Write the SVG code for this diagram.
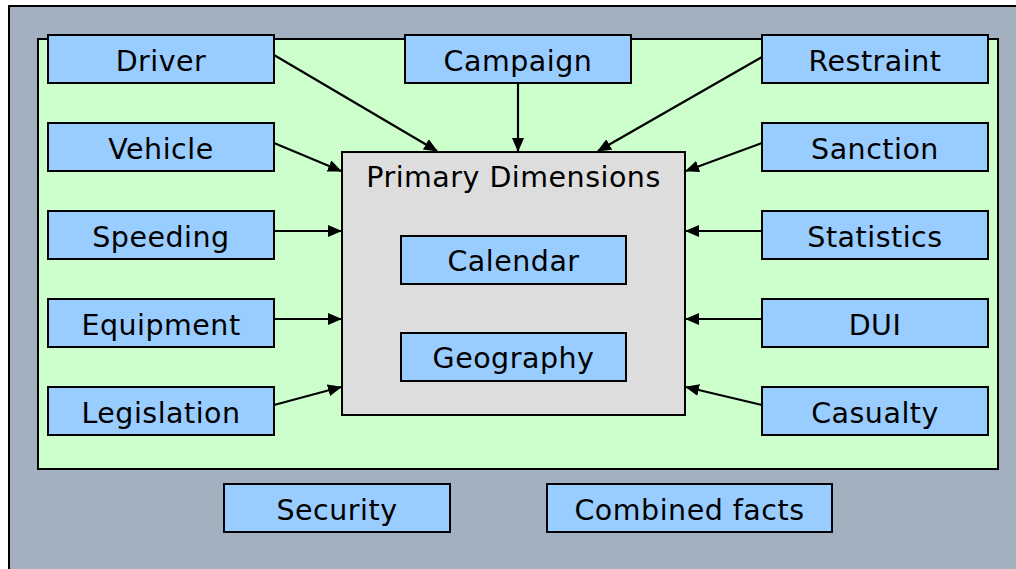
<svg xmlns="http://www.w3.org/2000/svg" width="1016" height="569" viewBox="0 0 1016 569">
<defs>
<marker id="ah" markerWidth="14" markerHeight="12" refX="13" refY="6" orient="auto" markerUnits="userSpaceOnUse">
<path d="M0,0 L14,6 L0,12 z" fill="#000"/>
</marker>
<style>
.bx{fill:#99CCFF;stroke:#000;stroke-width:2}
.t{font-family:"DejaVu Sans",Verdana,sans-serif;font-size:28.5px;letter-spacing:0.5px;fill:#000;text-anchor:middle}
.c{stroke:#000;stroke-width:2.2;fill:none;marker-end:url(#ah)}
</style>
</defs>
<rect x="0" y="0" width="1016" height="569" fill="#fff"/>
<rect id="frame" x="9" y="6" width="1020" height="580" fill="#A2B0BF" stroke="#000" stroke-width="2"/>
<rect id="area" x="38" y="39" width="960" height="430" fill="#CCFFCC" stroke="#000" stroke-width="2"/>
<g id="primary">
<rect x="342" y="152" width="343" height="263" fill="#DDDDDD" stroke="#000" stroke-width="2"/>
<text class="t" x="513.5" y="187">Primary Dimensions</text>
</g>
<g id="calendar"><rect class="bx" x="401" y="236" width="225" height="48"/><text class="t" x="513.5" y="271">Calendar</text></g>
<g id="geography"><rect class="bx" x="401" y="333" width="225" height="48"/><text class="t" x="513.5" y="368">Geography</text></g>
<g id="connectors">
<line class="c" x1="274" y1="55" x2="437" y2="151"/>
<line class="c" x1="518" y1="83" x2="518" y2="151"/>
<line class="c" x1="762" y1="57" x2="598" y2="151"/>
<line class="c" x1="274" y1="143" x2="341" y2="171"/>
<line class="c" x1="762" y1="143" x2="686" y2="171"/>
<line class="c" x1="274" y1="231" x2="341" y2="231"/>
<line class="c" x1="762" y1="231" x2="686" y2="231"/>
<line class="c" x1="274" y1="319" x2="341" y2="319"/>
<line class="c" x1="762" y1="319" x2="686" y2="319"/>
<line class="c" x1="274" y1="405" x2="341" y2="387"/>
<line class="c" x1="762" y1="405" x2="686" y2="387"/>
</g>
<g id="driver"><rect class="bx" x="48" y="35" width="226" height="48"/><text class="t" x="161" y="71">Driver</text></g>
<g id="campaign"><rect class="bx" x="405" y="35" width="226" height="48"/><text class="t" x="518" y="71">Campaign</text></g>
<g id="restraint"><rect class="bx" x="762" y="35" width="226" height="48"/><text class="t" x="875" y="71">Restraint</text></g>
<g id="vehicle"><rect class="bx" x="48" y="123" width="226" height="48"/><text class="t" x="161" y="159">Vehicle</text></g>
<g id="sanction"><rect class="bx" x="762" y="123" width="226" height="48"/><text class="t" x="875" y="159">Sanction</text></g>
<g id="speeding"><rect class="bx" x="48" y="211" width="226" height="48"/><text class="t" x="161" y="247">Speeding</text></g>
<g id="statistics"><rect class="bx" x="762" y="211" width="226" height="48"/><text class="t" x="875" y="247">Statistics</text></g>
<g id="equipment"><rect class="bx" x="48" y="299" width="226" height="48"/><text class="t" x="161" y="335">Equipment</text></g>
<g id="dui"><rect class="bx" x="762" y="299" width="226" height="48"/><text class="t" x="875" y="335">DUI</text></g>
<g id="legislation"><rect class="bx" x="48" y="387" width="226" height="48"/><text class="t" x="161" y="423">Legislation</text></g>
<g id="casualty"><rect class="bx" x="762" y="387" width="226" height="48"/><text class="t" x="875" y="423">Casualty</text></g>
<g id="security"><rect class="bx" x="224" y="484" width="226" height="48"/><text class="t" x="337" y="520">Security</text></g>
<g id="combined"><rect class="bx" x="547" y="484" width="285" height="48"/><text class="t" x="689.5" y="520">Combined facts</text></g>
</svg>
